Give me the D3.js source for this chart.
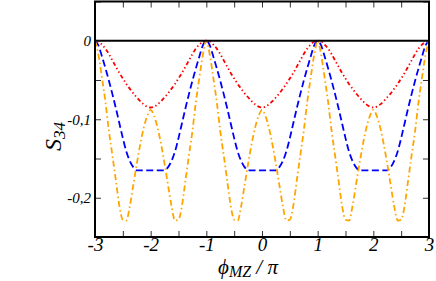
<!DOCTYPE html>
<html><head><meta charset="utf-8">
<script src="https://cdn.jsdelivr.net/npm/d3@7"></script>
<style>body{margin:0;background:#fff}svg{display:block}</style>
</head><body><svg id="c" width="436" height="281"></svg>
<script>
// phase phi_MZ / pi
const xValues = [
 -3,-2.9375,-2.875,-2.8125,-2.75,-2.6875,-2.625,-2.5625,-2.5,-2.4375,-2.375,-2.3125,-2.25,-2.1875,-2.125,-2.0625,
 -2,-1.9375,-1.875,-1.8125,-1.75,-1.6875,-1.625,-1.5625,-1.5,-1.4375,-1.375,-1.3125,-1.25,-1.1875,-1.125,-1.0625,
 -1,-0.9375,-0.875,-0.8125,-0.75,-0.6875,-0.625,-0.5625,-0.5,-0.4375,-0.375,-0.3125,-0.25,-0.1875,-0.125,-0.0625,
 0,0.0625,0.125,0.1875,0.25,0.3125,0.375,0.4375,0.5,0.5625,0.625,0.6875,0.75,0.8125,0.875,0.9375,
 1,1.0625,1.125,1.1875,1.25,1.3125,1.375,1.4375,1.5,1.5625,1.625,1.6875,1.75,1.8125,1.875,1.9375,
 2,2.0625,2.125,2.1875,2.25,2.3125,2.375,2.4375,2.5,2.5625,2.625,2.6875,2.75,2.8125,2.875,2.9375,3];

const redValues = [
 0,-0.001,-0.005,-0.010,-0.017,-0.025,-0.033,-0.041,-0.048,-0.055,-0.061,-0.067,-0.072,-0.077,-0.081,-0.084,
 -0.085,-0.084,-0.081,-0.077,-0.072,-0.067,-0.061,-0.055,-0.048,-0.041,-0.033,-0.025,-0.017,-0.010,-0.005,-0.001,
 0,-0.001,-0.005,-0.010,-0.017,-0.025,-0.033,-0.041,-0.048,-0.055,-0.061,-0.067,-0.072,-0.077,-0.081,-0.084,
 -0.085,-0.084,-0.081,-0.077,-0.072,-0.067,-0.061,-0.055,-0.048,-0.041,-0.033,-0.025,-0.017,-0.010,-0.005,-0.001,
 0,-0.001,-0.005,-0.010,-0.017,-0.025,-0.033,-0.041,-0.048,-0.055,-0.061,-0.067,-0.072,-0.077,-0.081,-0.084,
 -0.085,-0.084,-0.081,-0.077,-0.072,-0.067,-0.061,-0.055,-0.048,-0.041,-0.033,-0.025,-0.017,-0.010,-0.005,-0.001,0];

const blueValues = [
 0,-0.006,-0.020,-0.035,-0.051,-0.068,-0.086,-0.105,-0.124,-0.141,-0.153,-0.161,-0.165,-0.165,-0.165,-0.165,
 -0.165,-0.165,-0.165,-0.165,-0.165,-0.161,-0.153,-0.141,-0.124,-0.105,-0.086,-0.068,-0.051,-0.035,-0.020,-0.006,
 0,-0.006,-0.020,-0.035,-0.051,-0.068,-0.086,-0.105,-0.124,-0.141,-0.153,-0.161,-0.165,-0.165,-0.165,-0.165,
 -0.165,-0.165,-0.165,-0.165,-0.165,-0.161,-0.153,-0.141,-0.124,-0.105,-0.086,-0.068,-0.051,-0.035,-0.020,-0.006,
 0,-0.006,-0.020,-0.035,-0.051,-0.068,-0.086,-0.105,-0.124,-0.141,-0.153,-0.161,-0.165,-0.165,-0.165,-0.165,
 -0.165,-0.165,-0.165,-0.165,-0.165,-0.161,-0.153,-0.141,-0.124,-0.105,-0.086,-0.068,-0.051,-0.035,-0.020,-0.006,0];

const orangeValues = [
 0,-0.018,-0.047,-0.078,-0.115,-0.146,-0.178,-0.210,-0.228,-0.229,-0.211,-0.184,-0.157,-0.132,-0.111,-0.096,
 -0.088,-0.096,-0.111,-0.132,-0.157,-0.184,-0.211,-0.229,-0.228,-0.210,-0.178,-0.146,-0.115,-0.078,-0.047,-0.018,
 0,-0.018,-0.047,-0.078,-0.115,-0.146,-0.178,-0.210,-0.228,-0.229,-0.211,-0.184,-0.157,-0.132,-0.111,-0.096,
 -0.088,-0.096,-0.111,-0.132,-0.157,-0.184,-0.211,-0.229,-0.228,-0.210,-0.178,-0.146,-0.115,-0.078,-0.047,-0.018,
 0,-0.018,-0.047,-0.078,-0.115,-0.146,-0.178,-0.210,-0.228,-0.229,-0.211,-0.184,-0.157,-0.132,-0.111,-0.096,
 -0.088,-0.096,-0.111,-0.132,-0.157,-0.184,-0.211,-0.229,-0.228,-0.210,-0.178,-0.146,-0.115,-0.078,-0.047,-0.018,0];

const xTickValues = [-3,-2.5,-2,-1.5,-1,-0.5,0,0.5,1,1.5,2,2.5,3];
const xTickLabels = {"-3":"-3","-2":"-2","-1":"-1","0":"0","1":"1","2":"2","3":"3"};
const yTickValues = [0.05,0,-0.05,-0.1,-0.15,-0.2,-0.25];
const yTickLabels = {"0":"0","-0.1":"-0,1","-0.2":"-0,2"};

const series = [
  {name:"red", values:redValues, color:"#ff0000", dash:"4,2.6,1.4,2.6,1.4,2.6"},
  {name:"blue", values:blueValues, color:"#0000ff", dash:"7,3.5"},
  {name:"orange", values:orangeValues, color:"#ffa500", dash:"6,3,1.5,3"}
];

const svg = d3.select("#c");
const L = 95, R = 429, T = 1.5, B = 237;
const x = d3.scaleLinear().domain([-3,3]).range([L,R]);
const y = d3.scaleLinear().domain([-0.25,0.05]).range([B,T]);
const font = "'Liberation Serif','Times New Roman',serif";

// curves
const line = d3.line().x((d,i)=>x(xValues[i])).y(d=>y(d)).curve(d3.curveMonotoneX);
svg.append("clipPath").attr("id","pc").append("rect")
  .attr("x",L).attr("y",T).attr("width",R-L).attr("height",B-T);
svg.append("g").attr("clip-path","url(#pc)").selectAll("path").data(series).join("path")
  .attr("d", d=>line(d.values)).attr("fill","none").attr("stroke",d=>d.color)
  .attr("stroke-width",1.8).attr("stroke-dasharray",d=>d.dash);

// zero line
svg.append("line").attr("x1",L).attr("x2",R).attr("y1",y(0)).attr("y2",y(0))
  .attr("stroke","#000").attr("stroke-width",2);

// axes (ticks inward)
const fmtX = d => xTickLabels[String(d)] || "";
const fmtY = d => yTickLabels[String(d)] || "";
const gB = svg.append("g").attr("transform",`translate(0,${B})`)
  .call(d3.axisBottom(x).tickValues(xTickValues).tickSizeInner(-6).tickSizeOuter(0).tickPadding(0).tickFormat(fmtX));
const gT = svg.append("g").attr("transform",`translate(0,${T})`)
  .call(d3.axisTop(x).tickValues(xTickValues).tickSizeInner(-6).tickSizeOuter(0).tickFormat(""));
const gL = svg.append("g").attr("transform",`translate(${L},0)`)
  .call(d3.axisLeft(y).tickValues(yTickValues).tickSizeInner(-6).tickSizeOuter(0).tickPadding(4).tickFormat(fmtY));
const gR = svg.append("g").attr("transform",`translate(${R},0)`)
  .call(d3.axisRight(y).tickValues(yTickValues).tickSizeInner(-6).tickSizeOuter(0).tickFormat(""));
[gB,gT,gL,gR].forEach(g=>{
  g.select(".domain").remove();
  g.selectAll(".tick line").attr("stroke","#333").attr("stroke-width",1);
});
gB.selectAll("text").attr("font-family",font).attr("font-style","italic").attr("font-size",19).attr("fill","#000");
gL.selectAll("text").attr("font-family",font).attr("font-style","italic").attr("font-size",15).attr("fill","#000");

// frame
svg.append("rect").attr("x",L).attr("y",T).attr("width",R-L).attr("height",B-T)
  .attr("fill","none").attr("stroke","#000").attr("stroke-width",2);

// axis titles
const xt = svg.append("text").attr("x",218).attr("y",274).attr("text-anchor","start")
  .attr("font-family",font).attr("font-style","italic").attr("font-size",21).attr("fill","#000");
xt.append("tspan").text("ϕ");
xt.append("tspan").attr("font-size",16).attr("dy",3).text("MZ");
xt.append("tspan").attr("dy",-3).text(" / π");

const yt = svg.append("text").attr("transform","translate(61,151) rotate(-90)")
  .attr("font-family",font).attr("font-style","italic").attr("font-size",24).attr("fill","#000");
yt.append("tspan").text("S");
yt.append("tspan").attr("font-size",17).attr("dy",4).text("34");
</script>
</body></html>
